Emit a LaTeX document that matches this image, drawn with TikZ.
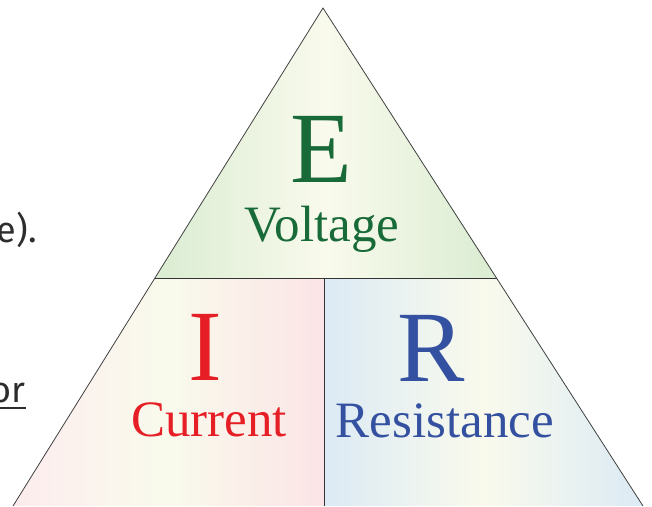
\documentclass[tikz,border=0pt]{standalone}
\usepackage{fontspec}
\setmainfont{Liberation Serif}
\newfontfamily\bodyfont{Fira Sans}
\usepackage{xcolor}

\definecolor{egreen}{RGB}{24,106,56}
\definecolor{ired}{RGB}{230,30,38}
\definecolor{rblue}{RGB}{52,80,160}
\definecolor{paleyellow}{RGB}{249,250,236}
\definecolor{palegreen}{RGB}{218,236,210}
\definecolor{palepink}{RGB}{251,228,230}
\definecolor{paleblue}{RGB}{220,234,245}
\definecolor{bodygray}{RGB}{45,45,45}

\begin{document}
\begin{tikzpicture}[
    x=1pt, y=-1pt,
    letter/.style={anchor=base, inner sep=0pt, font=\fontsize{101}{101}\selectfont},
    caption/.style={anchor=base, inner sep=0pt, font=\fontsize{51}{51}\selectfont},
    bodytext/.style={anchor=base east, inner sep=0pt, text=bodygray, font=\bodyfont\fontsize{36}{36}\selectfont},
    edge/.style={draw=black!75, line width=0.8pt},
    divider/.style={draw=black!80, line width=1pt}
]
\useasboundingbox (0,0) rectangle (652,506);

% corners of the triangle
\coordinate (apex) at (323,8);
\coordinate (ml) at (155,278);
\coordinate (mr) at (497,278);
\coordinate (mc) at (324,278);
\coordinate (bl) at (13,506);
\coordinate (br) at (643,506);
\coordinate (bc) at (324,506);

% shaded parts
\shade[left color=palegreen, right color=palegreen, middle color=paleyellow]
    (apex) -- (ml) -- (mr) -- cycle;
\shade[left color=palepink!70, right color=palepink, middle color=paleyellow]
    (ml) -- (mc) -- (bc) -- (bl) -- cycle;
\shade[left color=paleblue, right color=paleblue, middle color=paleyellow]
    (mc) -- (mr) -- (br) -- (bc) -- cycle;

% outline and dividers
\draw[edge] (bl) -- (apex) -- (br);
\draw[divider] (ml) -- (mr);
\draw[divider] (mc) -- (bc);

% labels
\node[letter, text=egreen] (E) at (321,182) {E};
\node[caption, text=egreen] (voltage) at (322,241) {Voltage};
\node[letter, text=ired] (I) at (205,380) {I};
\node[caption, text=ired] (current) at (209,436) {Current};
\node[letter, text=rblue] (R) at (431,381) {R};
\node[caption, text=rblue] (resistance) at (445,437) {Resistance};

% body text beside the triangle
\node[bodytext] (sentence) at (37,242) {e).};
\node[bodytext] (orword) at (26,402) {or};
\draw[bodygray, line width=2pt] (0,408) -- (orword.east |- 0,408);
\end{tikzpicture}
\end{document}
